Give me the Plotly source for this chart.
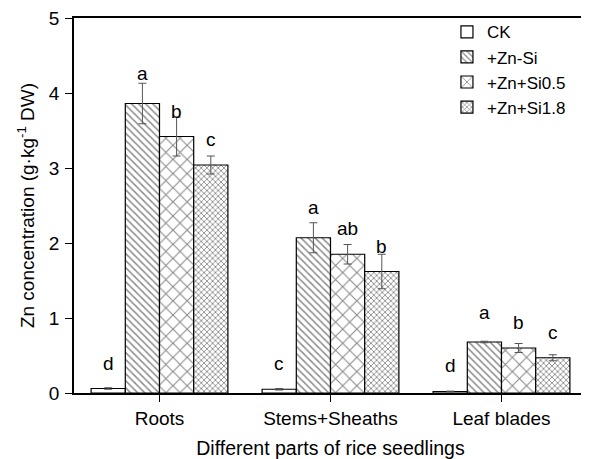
import plotly.graph_objects as go

categories = ["Roots", "Stems+Sheaths", "Leaf blades"]
series_names = ["CK", "+Zn-Si", "+Zn+Si0.5", "+Zn+Si1.8"]

ck = [0.06, 0.05, 0.02]
zn_si = [3.86, 2.07, 0.68]
zn_si05 = [3.42, 1.85, 0.60]
zn_si18 = [3.04, 1.62, 0.47]

ck_err = [0.01, 0.01, 0.005]
zn_si_err = [0.27, 0.20, 0.01]
zn_si05_err = [0.26, 0.13, 0.06]
zn_si18_err = [0.12, 0.23, 0.04]

ck_letters = ["d", "c", "d"]
zn_si_letters = ["a", "a", "a"]
zn_si05_letters = ["b", "ab", "b"]
zn_si18_letters = ["c", "b", "c"]

ck_letter_y = [0.40, 0.40, 0.37]
zn_si_letter_y = [4.26, 2.47, 1.08]
zn_si05_letter_y = [3.75, 2.19, 0.94]
zn_si18_letter_y = [3.38, 1.95, 0.81]

values = [ck, zn_si, zn_si05, zn_si18]
errors = [ck_err, zn_si_err, zn_si05_err, zn_si18_err]
letters = [ck_letters, zn_si_letters, zn_si05_letters, zn_si18_letters]
letter_y = [ck_letter_y, zn_si_letter_y, zn_si05_letter_y, zn_si18_letter_y]

patterns = [
    dict(shape=""),
    dict(shape="\\", size=5, solidity=0.3, fgcolor="#1a1a1a", bgcolor="white"),
    dict(shape="x", size=10, solidity=0.2, fgcolor="#111111", bgcolor="white"),
    dict(shape="x", size=4, solidity=0.4, fgcolor="#1a1a1a", bgcolor="white"),
]

FONT = "Liberation Sans, Arial, sans-serif"

fig = go.Figure()
for name, v, e, p in zip(series_names, values, errors, patterns):
    fig.add_trace(go.Bar(
        name=name, x=categories, y=v,
        marker=dict(color="white", line=dict(color="black", width=1.2), pattern=p),
        error_y=dict(type="data", array=e, visible=True, color="#555555",
                     thickness=1, width=4),
    ))

offsets = [-0.3, -0.1, 0.1, 0.3]
for s in range(4):
    for i in range(len(categories)):
        fig.add_annotation(x=i + offsets[s], y=letter_y[s][i], text=letters[s][i],
                           showarrow=False, xref="x", yref="y",
                           font=dict(size=19, color="black", family=FONT),
                           yanchor="middle", xanchor="center")

fig.update_layout(
    width=581, height=451,
    margin=dict(l=66, r=2, t=10, b=66, autoexpand=False),
    paper_bgcolor="white", plot_bgcolor="white",
    barmode="group", bargap=0.2, bargroupgap=0,
    font=dict(family=FONT, size=19, color="black"),
    showlegend=True,
    legend=dict(x=0.727, y=1.01, xanchor="left", yanchor="top",
                bgcolor="rgba(0,0,0,0)", font=dict(size=17, family=FONT),
                tracegroupgap=0, itemwidth=30),
)
fig.update_xaxes(
    type="category", range=[-0.5, 2.5], automargin=False,
    showline=True, linecolor="black", linewidth=1.5, mirror=True,
    ticks="outside", ticklen=7, tickcolor="black", tickwidth=1.2,
    showgrid=False, zeroline=False, ticklabeloverflow="allow",
    tickfont=dict(size=19, family=FONT),
    title=dict(text="Different parts of rice seedlings", font=dict(size=19.5, family=FONT), standoff=14),
)
fig.update_yaxes(
    range=[0, 5], dtick=1, automargin=False,
    showline=True, linecolor="black", linewidth=1.5, mirror=True,
    ticks="outside", ticklen=7, tickcolor="black", tickwidth=1.2,
    showgrid=False, zeroline=False, ticklabeloverflow="allow",
    tickfont=dict(size=19, family=FONT), ticklabelstandoff=2,
    title=dict(text="Zn concentration (g·kg<sup>-1</sup> DW)", font=dict(size=19, family=FONT), standoff=9),
)

fig.write_html("out.html")
